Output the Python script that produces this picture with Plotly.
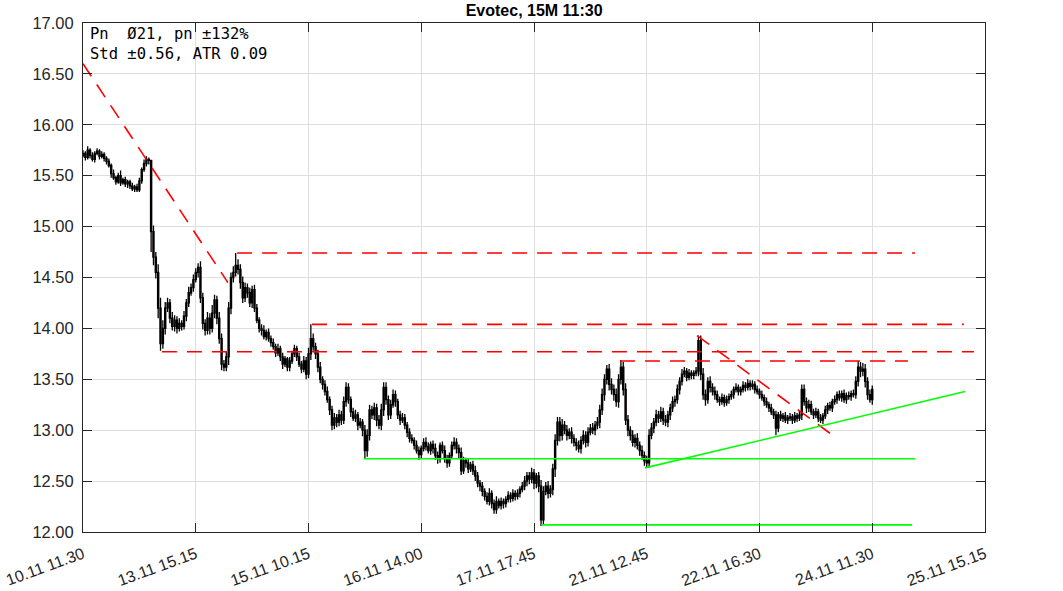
import plotly.graph_objects as go

# ---------------- data ----------------
tick_labels = ["10.11 11.30", "13.11 15.15", "15.11 10.15", "16.11 14.00", "17.11 17.45",
               "21.11 12.45", "22.11 16.30", "24.11 11.30", "25.11 15.15"]
bars_per_tick = 48

closes = [
    15.72, 15.68, 15.75, 15.70, 15.66, 15.72, 15.74, 15.69, 15.71, 15.67,
    15.64, 15.60, 15.52, 15.48, 15.44, 15.50, 15.43, 15.46, 15.42, 15.44,
    15.40, 15.37, 15.39, 15.36, 15.45, 15.56, 15.62, 15.66, 15.65, 14.95,
    14.70, 14.55, 14.20, 13.85, 14.00, 14.20, 14.25, 14.10, 14.02, 14.08,
    14.00, 14.05, 14.02, 14.12, 14.25, 14.35, 14.40, 14.48, 14.55, 14.60,
    14.30, 14.05, 13.98, 14.10, 14.00, 14.15, 14.28, 14.10, 13.90, 13.65,
    13.62, 13.72, 14.20, 14.50, 14.55, 14.62, 14.58, 14.45, 14.30, 14.40,
    14.35, 14.25, 14.38, 14.20, 14.08, 14.00, 13.98, 13.92, 13.96, 13.90,
    13.86, 13.82, 13.76, 13.80, 13.72, 13.65, 13.70, 13.62, 13.68, 13.75,
    13.80, 13.72, 13.65, 13.60, 13.68, 13.55, 13.75, 13.90, 13.82, 13.75,
    13.62, 13.50, 13.45, 13.38, 13.30, 13.20, 13.05, 13.12, 13.08, 13.15,
    13.10, 13.28, 13.42, 13.30, 13.18, 13.12, 13.15, 13.05, 13.08, 13.00,
    12.80, 12.95, 13.20, 13.15, 13.22, 13.10, 13.05, 13.20, 13.42, 13.30,
    13.15, 13.25, 13.35, 13.28, 13.15, 13.10, 13.12, 13.05, 12.98, 12.92,
    12.90, 12.85, 12.80, 12.76, 12.82, 12.88, 12.84, 12.80, 12.86, 12.82,
    12.75, 12.72, 12.85, 12.80, 12.72, 12.68, 12.75, 12.85, 12.88, 12.82,
    12.78, 12.60, 12.70, 12.68, 12.62, 12.66, 12.60, 12.55, 12.48, 12.45,
    12.40, 12.35, 12.30, 12.38, 12.28, 12.22, 12.30, 12.26, 12.30, 12.28,
    12.32, 12.36, 12.33, 12.38, 12.35, 12.38, 12.42, 12.45, 12.50, 12.55,
    12.52, 12.58, 12.48, 12.55, 12.45, 12.12, 12.40, 12.45, 12.38, 12.42,
    12.62, 12.90, 13.08, 12.95, 13.05, 13.00, 12.95, 12.98, 12.92, 12.88,
    12.85, 12.82, 12.90, 12.95, 12.88, 12.98, 13.02, 13.00, 13.05, 13.08,
    13.20, 13.35, 13.50, 13.60, 13.45, 13.40, 13.35, 13.28, 13.50, 13.62,
    13.40, 13.10, 13.00, 12.95, 12.88, 12.92, 12.85, 12.80, 12.75, 12.70,
    12.68, 12.95, 13.02, 13.08, 13.15, 13.12, 13.18, 13.10, 13.08, 13.15,
    13.22, 13.28, 13.30, 13.40, 13.48, 13.55, 13.58, 13.52, 13.56, 13.54,
    13.56, 13.58, 13.88, 13.55, 13.35, 13.30, 13.48, 13.42, 13.38, 13.35,
    13.30, 13.28, 13.32, 13.27, 13.30, 13.33, 13.35, 13.40, 13.42, 13.38,
    13.40, 13.44, 13.42, 13.46, 13.43, 13.45, 13.40, 13.38, 13.35, 13.32,
    13.28, 13.25, 13.22, 13.18, 13.15, 13.02, 13.15, 13.12, 13.14, 13.10,
    13.12, 13.13, 13.10, 13.14, 13.12, 13.15, 13.40, 13.28, 13.22, 13.25,
    13.18, 13.15, 13.18, 13.12, 13.10, 13.14, 13.20, 13.24, 13.22, 13.28,
    13.30, 13.35, 13.32, 13.36, 13.30, 13.34, 13.33, 13.36, 13.35, 13.48,
    13.62, 13.58, 13.60, 13.48, 13.35, 13.30, 13.40,
]
first_open = 15.70

# upper / lower wick lengths per bar, in cents
upper_wick_cents = [
    3, 2, 4, 2, 3, 2, 3, 2, 3, 2,   2, 3, 2, 4, 2, 3, 5, 2, 3, 2,
    2, 3, 2, 3, 3, 2, 4, 3, 2, 0,   6, 5, 8, 10, 8, 6, 5, 4, 6, 5,
    4, 5, 3, 5, 4, 6, 4, 5, 4, 4,   6, 5, 4, 6, 5, 8, 5, 4, 6, 5,
    4, 5, 6, 5, 6, 8, 6, 5, 6, 5,   4, 5, 4, 5, 4, 3, 4, 5, 3, 4,
    3, 4, 3, 5, 3, 4, 3, 2, 4, 3,   4, 3, 4, 3, 5, 4, 6, 0, 5, 4,
    4, 5, 3, 4, 5, 3, 4, 5, 4, 5,   4, 5, 0, 4, 3, 4, 5, 3, 4, 3,
    5, 6, 5, 4, 5, 4, 5, 6, 0, 5,   4, 5, 5, 4, 3, 4, 5, 4, 3, 4,
    4, 3, 5, 4, 3, 4, 5, 4, 3, 4,   5, 4, 3, 4, 5, 4, 3, 4, 5, 4,
    4, 5, 4, 3, 4, 3, 4, 5, 4, 3,   4, 3, 4, 5, 3, 4, 5, 3, 4, 3,
    3, 4, 3, 4, 3, 4, 3, 4, 5, 4,   4, 5, 4, 3, 4, 6, 5, 4, 5, 4,
    5, 6, 0, 5, 6, 4, 5, 4, 5, 4,   4, 5, 4, 5, 4, 5, 4, 5, 4, 5,
    5, 6, 5, 0, 5, 6, 5, 6, 5, 0,   5, 6, 5, 4, 5, 4, 5, 4, 5, 4,
    5, 6, 5, 4, 5, 4, 5, 4, 5, 4,   4, 5, 4, 5, 4, 5, 4, 3, 4, 3,
    3, 4, 0, 5, 6, 5, 4, 5, 4, 5,   4, 3, 4, 3, 4, 3, 4, 3, 4, 3,
    3, 4, 3, 4, 3, 4, 3, 4, 3, 4,   3, 4, 3, 4, 3, 4, 3, 4, 3, 4,
    3, 4, 3, 4, 3, 4, 0, 5, 4, 5,   4, 3, 4, 3, 4, 3, 4, 3, 4, 3,
    4, 3, 4, 3, 4, 3, 4, 3, 4, 5,   0, 5, 6, 5, 4, 5, 4,
]
lower_wick_cents = [
    2, 3, 2, 3, 2, 3, 2, 3, 2, 3,   3, 2, 4, 2, 3, 2, 3, 2, 3, 4,
    3, 2, 3, 2, 2, 3, 2, 3, 4, 0,   8, 6, 10, 0, 5, 6, 4, 5, 4, 5,
    5, 3, 4, 3, 5, 4, 3, 4, 3, 5,   5, 6, 5, 4, 6, 4, 5, 6, 5, 6,
    0, 4, 8, 6, 5, 4, 5, 6, 5, 4,   5, 4, 5, 4, 3, 4, 5, 3, 4, 3,
    4, 3, 4, 3, 4, 5, 3, 0, 4, 3,   3, 4, 3, 4, 3, 5, 4, 6, 4, 5,
    5, 4, 5, 4, 3, 5, 0, 4, 5, 4,   5, 4, 5, 4, 5, 3, 4, 5, 3, 6,
    0, 6, 5, 4, 5, 6, 4, 5, 6, 5,   5, 4, 3, 5, 4, 5, 3, 4, 5, 4,
    3, 4, 3, 5, 4, 3, 4, 3, 4, 5,   4, 5, 4, 3, 4, 5, 4, 3, 4, 5,
    6, 4, 3, 5, 4, 3, 4, 5, 4, 5,   5, 4, 3, 4, 5, 0, 4, 3, 4, 5,
    4, 3, 4, 3, 4, 3, 4, 3, 4, 5,   5, 4, 6, 5, 6, 0, 5, 4, 5, 4,
    6, 8, 5, 6, 5, 4, 5, 4, 5, 4,   5, 4, 5, 4, 5, 4, 3, 4, 5, 4,
    6, 5, 6, 5, 6, 5, 6, 5, 6, 5,   6, 5, 6, 5, 4, 5, 4, 5, 4, 5,
    0, 5, 4, 5, 4, 5, 4, 5, 4, 5,   5, 4, 5, 4, 5, 4, 3, 4, 3, 4,
    4, 3, 5, 6, 5, 6, 4, 5, 4, 5,   3, 4, 3, 4, 3, 4, 3, 4, 3, 4,
    4, 3, 4, 3, 4, 3, 4, 3, 4, 3,   4, 3, 4, 3, 4, 0, 4, 3, 4, 3,
    4, 3, 4, 3, 4, 3, 5, 4, 5, 4,   3, 4, 3, 4, 3, 4, 3, 4, 3, 4,
    3, 4, 3, 4, 3, 4, 3, 4, 3, 4,   5, 6, 5, 6, 5, 0, 5,
]
# wick extremes (bar index -> price)
extreme_highs = {29: 15.62, 65: 14.74, 97: 14.04, 112: 13.47, 128: 13.47, 202: 13.13,
                 223: 13.64, 229: 13.69, 262: 13.93, 306: 13.45, 330: 13.68}
extreme_lows = {21: 15.35, 29: 14.75, 33: 13.78, 60: 13.58, 87: 13.58, 106: 13.00,
                120: 12.72, 175: 12.18, 195: 12.06, 240: 12.63, 295: 12.95, 335: 13.27}

# support / resistance lines: (start bar, start price, end bar, end price)
red_lines = [
    (0.0, 16.60, 61.7, 14.45),
    (65.6, 14.74, 354.2, 14.74),
    (97.5, 14.04, 375.0, 14.04),
    (33.6, 13.77, 379.3, 13.77),
    (228.6, 13.68, 351.2, 13.68),
    (261.4, 13.93, 318.0, 12.97),
]
green_lines = [
    (119.6, 12.72, 354.2, 12.72),
    (195.0, 12.07, 353.0, 12.07),
    (239.3, 12.63, 375.5, 13.38),
]

title_text = "Evotec, 15M 11:30"
info_lines = ["Pn  \u00d821, pn \u00b1132%", "Std \u00b10.56, ATR 0.09"]

# ---------------- build ----------------
idx = list(range(len(closes)))
opens = [first_open] + closes[:-1]
highs = [max(o, c) + u / 100 for o, c, u in zip(opens, closes, upper_wick_cents)]
lows = [min(o, c) - d / 100 for o, c, d in zip(opens, closes, lower_wick_cents)]
for k, v in extreme_highs.items():
    highs[k] = max(highs[k], v)
for k, v in extreme_lows.items():
    lows[k] = min(lows[k], v)

fig = go.Figure()
fig.add_trace(go.Candlestick(
    x=idx, open=opens, high=highs, low=lows, close=closes,
    increasing=dict(line=dict(color="black", width=1.3), fillcolor="#00c000"),
    decreasing=dict(line=dict(color="black", width=1.3), fillcolor="#e00000"),
    whiskerwidth=0, hoverinfo="skip", showlegend=False,
))
for (x0, y0, x1, y1) in red_lines:
    fig.add_trace(go.Scatter(x=[x0, x1], y=[y0, y1], mode="lines",
                             line=dict(color="#ff0000", width=1.6, dash="15px,10px"),
                             hoverinfo="skip", showlegend=False))
for (x0, y0, x1, y1) in green_lines:
    fig.add_trace(go.Scatter(x=[x0, x1], y=[y0, y1], mode="lines",
                             line=dict(color="#00ff00", width=1.6),
                             hoverinfo="skip", showlegend=False))

tickvals = [i * bars_per_tick for i in range(len(tick_labels))]
axis_common = dict(
    showline=True, linecolor="#262626", linewidth=1, mirror="ticks",
    ticks="inside", ticklen=9, tickcolor="#262626",
    showgrid=True, gridcolor="#dedede", gridwidth=1, zeroline=False,
)
fig.update_layout(
    width=1063, height=591,
    margin=dict(l=83, r=78, t=23, b=59, autoexpand=False),
    paper_bgcolor="white", plot_bgcolor="white",
    title=dict(text="<b>" + title_text + "</b>", x=0.5025, xanchor="center",
               xref="container", y=1 - 10 / 591, yref="container", yanchor="middle",
               font=dict(family="Liberation Sans, Arial", size=16, color="black")),
    xaxis=dict(range=[0, tickvals[-1]], tickvals=tickvals, ticktext=tick_labels,
               tickangle=-20, ticklabelstandoff=6,
               tickfont=dict(family="Liberation Sans, Arial", size=16, color="#262626"),
               rangeslider=dict(visible=False), **axis_common),
    yaxis=dict(range=[12, 17], tickvals=[12 + 0.5 * i for i in range(11)],
               ticktext=["%.2f" % (12 + 0.5 * i) for i in range(11)],
               ticklabelstandoff=5,
               tickfont=dict(family="Liberation Sans, Arial", size=16.5, color="#262626"),
               **axis_common),
    showlegend=False,
)
for n, line in enumerate(info_lines):
    fig.add_annotation(xref="paper", yref="paper", x=0.006, y=0.979 - n * 0.039,
                       xanchor="left", yanchor="middle", showarrow=False, text=line,
                       font=dict(family="DejaVu Sans Mono", size=15.5, color="black"))

fig.write_html("out.html", config={"displayModeBar": False},
               post_script="document.body.style.margin='0';")
